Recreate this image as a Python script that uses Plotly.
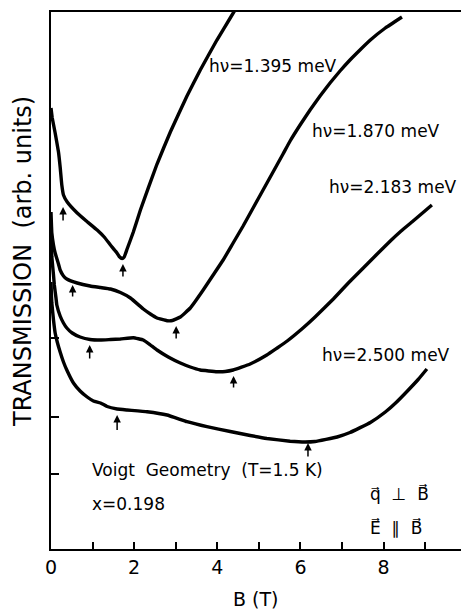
import plotly.graph_objects as go

# Magnetic field (T) and transmission (arb. units) for each photon energy
b_1395 = [0.00, 0.03, 0.10, 0.18, 0.22, 0.26, 0.30, 0.39, 0.63, 0.85, 1.11, 1.28, 1.43, 1.57,
          1.64, 1.71, 1.76, 1.83, 1.98, 2.15, 2.55, 2.87, 3.27, 3.59, 3.99, 4.31, 4.60]
t_1395 = [44.1, 43.1, 41.6, 39.7, 38.2, 36.4, 35.4, 34.7, 33.6, 32.8, 31.9, 31.2, 30.4, 29.7,
          29.25, 29.05, 29.2, 30.0, 31.7, 33.9, 38.5, 41.7, 45.3, 47.9, 50.9, 53.1, 55.1]

b_1870 = [0.00, 0.02, 0.06, 0.10, 0.18, 0.22, 0.30, 0.38, 0.63, 0.94, 1.19, 1.43, 1.67, 1.91,
          2.22, 2.39, 2.55, 2.79, 2.92, 3.11, 3.35, 3.66, 3.90, 4.14, 4.38, 4.62, 4.86, 5.10,
          5.34, 5.58, 5.75, 5.99, 6.23, 6.47, 6.71, 6.95, 7.19, 7.43, 7.68, 8.04, 8.44]
t_1870 = [33.7, 31.6, 30.4, 29.6, 28.5, 27.9, 27.3, 27.0, 26.6, 26.3, 26.15, 26.0, 25.65, 25.1,
          24.0, 23.5, 23.1, 22.83, 22.85, 23.2, 24.1, 25.9, 27.4, 28.9, 30.6, 32.3, 34.1, 35.9,
          37.7, 39.5, 40.8, 42.4, 43.9, 45.3, 46.6, 47.8, 48.9, 49.9, 50.9, 52.1, 53.2]

b_2183 = [0.00, 0.01, 0.02, 0.06, 0.08, 0.12, 0.14, 0.22, 0.30, 0.38, 0.51, 0.70, 0.94, 1.19,
          1.43, 1.67, 1.98, 2.22, 2.39, 2.55, 2.82, 3.11, 3.35, 3.59, 3.99, 4.19, 4.38, 4.79,
          5.19, 5.44, 5.68, 6.06, 6.35, 6.79, 7.15, 7.51, 7.82, 8.16, 8.42, 8.68, 9.16]
t_2183 = [32.1, 30.4, 29.2, 27.4, 26.4, 25.1, 24.4, 23.3, 22.6, 22.1, 21.6, 21.2, 20.95, 20.9,
          20.95, 21.0, 21.13, 20.9, 20.4, 19.9, 19.2, 18.6, 18.2, 17.9, 17.73, 17.75, 17.9, 18.5,
          19.4, 20.1, 20.8, 22.1, 23.2, 25.0, 26.6, 28.1, 29.4, 30.8, 31.8, 32.7, 34.4]

b_2500 = [0.00, 0.01, 0.02, 0.06, 0.10, 0.15, 0.22, 0.30, 0.38, 0.54, 0.70, 0.87, 1.02, 1.19,
          1.35, 1.59, 1.83, 2.31, 2.79, 3.27, 3.75, 4.31, 4.79, 5.19, 5.75, 6.11, 6.35, 6.88,
          7.19, 7.68, 8.04, 8.30, 8.56, 8.83, 9.04]
t_2500 = [26.7, 25.4, 24.6, 22.9, 21.6, 20.7, 19.7, 18.7, 17.9, 16.6, 15.8, 15.2, 14.8, 14.6,
          14.25, 14.0, 13.9, 13.73, 13.4, 12.73, 12.23, 11.75, 11.35, 11.05, 10.78, 10.7, 10.75, 11.2,
          11.65, 12.65, 13.7, 14.65, 15.75, 16.95, 18.0]

curves = [(b_1395, t_1395), (b_1870, t_1870), (b_2183, t_2183), (b_2500, t_2500)]

# Resonance markers: field position, arrow tip and arrow tail
arrow_b = [0.29, 1.73, 0.52, 3.01, 0.93, 4.39, 1.59, 6.18]
arrow_tip = [34.2, 28.5, 26.4, 22.3, 20.4, 17.3, 13.4, 10.6]
arrow_tail = [32.7, 27.1, 25.1, 20.9, 18.9, 16.0, 11.75, 9.1]

# Curve labels (left edge position)
label_text = ["hν=1.395 meV", "hν=1.870 meV", "hν=2.183 meV", "hν=2.500 meV"]
label_b = [3.76, 6.23, 6.64, 6.47]
label_t = [48.3, 41.8, 36.2, 19.4]

x_tickvals = [0, 1, 2, 3, 4, 5, 6, 7, 8, 9]
x_ticktext = ["0", "", "2", "", "4", "", "6", "", "8", ""]
y_tickvals = [7.5, 13.2, 21.1]

FONT = "DejaVu Sans"

fig = go.Figure()
for b, t in curves:
    fig.add_trace(go.Scatter(x=b, y=t, mode="lines",
                             line=dict(color="black", width=3.4, shape="spline", smoothing=0.3),
                             showlegend=False, hoverinfo="skip"))

annotations = []
for b, tip, tail in zip(arrow_b, arrow_tip, arrow_tail):
    annotations.append(dict(x=b, y=tip, ax=b, ay=tail, xref="x", yref="y", axref="x", ayref="y",
                            showarrow=True, arrowhead=2, arrowsize=1.0, arrowwidth=1.5,
                            arrowcolor="black", text=""))

for txt, b, t in zip(label_text, label_b, label_t):
    annotations.append(dict(x=b, y=t, xref="x", yref="y", text=txt, showarrow=False,
                            xanchor="left", yanchor="middle",
                            font=dict(family=FONT, size=17, color="black")))

annotations += [
    dict(x=0.945, y=7.9, xref="x", yref="y", text="Voigt  Geometry  (T=1.5 K)", showarrow=False,
         xanchor="left", yanchor="middle", font=dict(family=FONT, size=17, color="black")),
    dict(x=0.945, y=4.5, xref="x", yref="y", text="x=0.198", showarrow=False,
         xanchor="left", yanchor="middle", font=dict(family=FONT, size=17, color="black")),
    dict(x=7.63, y=5.6, xref="x", yref="y", text="q\u20d7  \u22a5  B\u20d7", showarrow=False,
         xanchor="left", yanchor="middle", font=dict(family=FONT, size=17, color="black")),
    dict(x=7.63, y=2.2, xref="x", yref="y", text="E\u20d7  \u2225  B\u20d7", showarrow=False,
         xanchor="left", yanchor="middle", font=dict(family=FONT, size=17, color="black")),
    # axis titles
    dict(x=0.5, y=-0.093, xref="paper", yref="paper", text="B (T)", showarrow=False,
         xanchor="center", yanchor="middle", font=dict(family=FONT, size=19, color="black")),
    dict(x=-0.07, y=0.535, xref="paper", yref="paper", text="TRANSMISSION  (arb. units)",
         showarrow=False, textangle=-90, xanchor="center", yanchor="middle",
         font=dict(family=FONT, size=24, color="black")),
]

fig.update_layout(
    width=461, height=612,
    margin=dict(l=51, r=0, t=12, b=63),
    paper_bgcolor="white", plot_bgcolor="white",
    annotations=annotations,
    xaxis=dict(range=[0, 9.86], tickvals=x_tickvals, ticktext=x_ticktext,
               ticks="inside", ticklen=7, tickwidth=1.5, tickcolor="black",
               showline=True, linewidth=2, linecolor="black", mirror=True,
               showgrid=False, zeroline=False,
               tickfont=dict(family=FONT, size=19, color="black")),
    yaxis=dict(range=[0, 53.7], tickvals=y_tickvals, showticklabels=False,
               ticks="inside", ticklen=8, tickwidth=1.5, tickcolor="black",
               showline=True, linewidth=2, linecolor="black", mirror=False,
               showgrid=False, zeroline=False),
)

fig.write_html("out.html")
